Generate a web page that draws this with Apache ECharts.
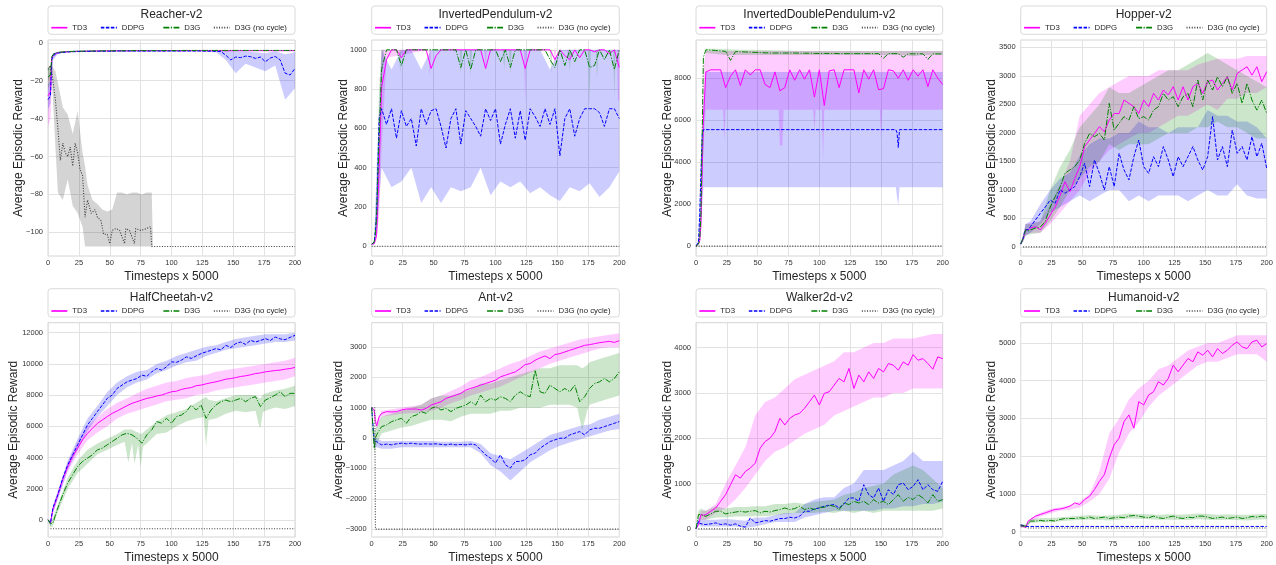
<!DOCTYPE html>
<html><head><meta charset="utf-8">
<script src="https://cdn.jsdelivr.net/npm/echarts/dist/echarts.min.js"></script>
<style>html,body{margin:0;padding:0;background:#fff}#c{width:1276px;height:565px}</style>
</head><body><div id="c"></div>
<script>
// ---------- shared x samples ----------
const XM = [0,2,3,4,6,8, 12,16,20,24,28,32,36,40,44,48, 52,56,60,64,68,72,76,80,84,88, 92,96,100,104,108,112,116,120,124,128, 132,136,140,144,148,152,156,160,164,168, 172,176,180,184,188,192,196,200];
const XB = [0,2,4,8, 16,24,32,40,48,56,64,72,80,88, 96,104,112,120,128,136,144,152,160,168, 176,184,192,200];
const X_TICKS = [0,25,50,75,100,125,150,175,200];
const TITLES = ['Reacher-v2','InvertedPendulum-v2','InvertedDoublePendulum-v2','Hopper-v2','HalfCheetah-v2','Ant-v2','Walker2d-v2','Humanoid-v2'];
const NAMES = ['TD3','DDPG','D3G','D3G (no cycle)'];

// ---------- Reacher ----------
const reacher_yticks = [-100,-80,-60,-40,-20,0];
const reacher_td3 = [-28,-26,-8,-6.5,-5.6,-5.2, -4.9,-4.7,-4.6,-4.5,-4.5,-4.4,-4.4,-4.3,-4.3,-4.3, -4.3,-4.2,-4.2,-4.2,-4.2,-4.1,-4.2,-4.2,-4.1,-4.1, -4.2,-4.1,-4.1,-4.1,-4.2,-4.1,-4.1,-4.1,-4.1,-4.1, -4.1,-4.1,-4.1,-4.2,-4.1,-4.1,-4.1,-4.1,-4.1,-4.1, -4.1,-4.1,-4.1,-4.1,-4.1,-4.1,-4.1,-4.1];
const reacher_ddpg = [-30,-28,-9,-7,-5.9,-5.4, -5.0,-4.8,-4.7,-4.6,-4.6,-4.5,-4.5,-4.4,-4.4,-4.4, -4.4,-4.3,-4.3,-4.3,-4.3,-4.3,-4.3,-4.3,-4.3,-4.3, -4.3,-4.3,-4.3,-4.3,-4.3,-4.3,-4.3,-4.3,-4.3,-4.4, -4.4,-4.5,-4.6,-6.5,-9,-7.5,-7.8,-7,-7.3,-8.2, -7.5,-10,-8,-7.2,-9,-16,-17,-13.5];
const reacher_d3g = [-18,-17,-7.5,-6.2,-5.4,-5.0, -4.8,-4.6,-4.5,-4.4,-4.4,-4.3,-4.3,-4.3,-4.2,-4.2, -4.2,-4.2,-4.2,-4.1,-4.1,-4.1,-4.1,-4.1,-4.1,-4.1, -4.1,-4.1,-4.1,-4.1,-4.0,-4.0,-4.0,-4.0,-4.0,-4.0, -4.0,-4.0,-4.0,-4.0,-4.0,-4.0,-4.0,-4.0,-4.0,-4.0, -4.0,-4.0,-4.0,-4.0,-4.0,-4.0,-4.0,-4.0];
const reacher_nc_x = [0,2,3,4,6,8,10,12,14,16, 18,20,22,24,26,28,30,32,35,38, 40,43,45,48,50,52,55,58,62,63, 66,70,71,75,80,83,84,200];
const reacher_nc = [-14,-12,-15,-20,-30,-45,-62,-53,-58,-60, -55,-65,-53,-58,-67,-70,-92,-83,-90,-88, -92,-94,-101,-101,-106,-99,-98,-99,-106,-98, -99,-106,-98,-99,-98,-97,-107.5,-107.5];
const reacher_td3_lo = [-44,-40,-8,-5.6, -4.9,-4.7,-4.6,-4.5,-4.5,-4.4,-4.4,-4.4,-4.4,-4.4, -4.4,-4.4,-4.4,-4.4,-4.4,-4.4,-4.4,-4.4,-4.4,-4.4, -4.4,-4.4,-4.4,-4.4];
const reacher_td3_hi = [-18,-15,-5.5,-4.8, -4.5,-4.3,-4.2,-4.1,-4.1,-4.0,-4.0,-4.0,-4.0,-4.0, -3.9,-3.9,-3.9,-3.9,-3.9,-3.9,-3.9,-3.9,-3.9,-3.9, -3.9,-3.9,-3.9,-3.9];
const reacher_ddpg_lo = [-35,-32,-9,-5.8, -5,-4.8,-4.7,-4.7,-4.6,-4.6,-4.6,-4.6,-4.6,-4.6, -4.6,-4.6,-4.6,-4.6,-4.7,-4.9,-9,-16,-11,-13, -15,-12,-30,-24];
const reacher_ddpg_hi = [-22,-20,-5.5,-4.8, -4.3,-4.1,-4.0,-4.0,-4.0,-4.0,-4.0,-4.0,-4.0,-4.0, -4.0,-4.0,-4.0,-4.0,-4.0,-4.0,-4.2,-4.5,-4.5,-5, -5.5,-4.5,-6,-5];
const reacher_d3g_lo = [-24,-22,-7,-5.4, -4.7,-4.5,-4.4,-4.3,-4.3,-4.2,-4.2,-4.2,-4.2,-4.2, -4.2,-4.2,-4.2,-4.2,-4.2,-4.2,-4.2,-4.2,-4.2,-4.2, -4.2,-4.2,-4.2,-4.2];
const reacher_d3g_hi = [-13,-12,-5.5,-4.7, -4.4,-4.2,-4.1,-4.0,-4.0,-3.9,-3.9,-3.9,-3.9,-3.9, -3.8,-3.8,-3.8,-3.8,-3.8,-3.8,-3.8,-3.8,-3.8,-3.8, -3.8,-3.8,-3.8,-3.8];
const reacher_nc_bx = [0,2,3,4,6,8,12,16,20,24,28,30,32,36,40,44,48,52,56,60,64,68,72,76,80,84,85,200];
const reacher_nc_lo = [-20,-19,-18,-30,-55,-79,-83,-72,-86,-90,-97,-107.5,-107.5,-107.5,-107.5,-107.5,-107.5,-107.5,-107.5,-107.5,-107.5,-107.5,-107.5,-107.5,-107.5,-107.5,-107.5,-107.5];
const reacher_nc_hi = [-13,-12,-12,-13,-15,-21,-34,-38,-48,-36,-58,-65,-75,-83,-85,-88,-89,-88,-79,-79,-80,-79,-79,-80,-79,-79,-107.5,-107.5];

// ---------- InvertedPendulum ----------
const invp_yticks = [0,200,400,600,800,1000];
const invp_td3 = [10,12,30,60,400,810, 950,1000,1000,960,1000,1000,1000,1000,1000,905, 970,1000,1000,1000,1000,1000,1000,1000,1000,1000, 905,1000,1000,1000,1000,1000,1000,1000,905,1000, 1000,1000,1000,1000,950,1000,970,950,1000,960, 1000,1000,990,1000,1000,980,1000,910];
const invp_ddpg = [10,20,80,170,650,700, 620,700,550,690,610,650,510,700,620,690, 700,610,500,650,700,520,690,650,610,560, 700,640,700,520,620,700,550,690,540,700, 660,610,700,620,700,460,650,700,560,650, 700,700,700,680,610,700,700,650];
const invp_d3g = [10,20,60,150,550,900, 1000,1000,1000,920,1000,1000,1000,1000,1000,1000, 1000,1000,1000,1000,1000,910,1000,900,1000,1000, 1000,1000,1000,940,1000,910,1000,1000,1000,1000, 1000,1000,1000,950,910,1000,920,1000,940,1000, 1000,910,920,1000,950,1000,900,1000];
const invp_nc_x = [0,200];
const invp_nc = [0,0];
const invp_td3_bx = [0,2,4,6,8,10,12, 46,47,48, 91,92,93, 123,124,125, 147,148,149, 158,159,160, 198,199,200];
const invp_td3_lo = [10,10,40,150,500,730,960, 1000,860,1000, 1000,900,1000, 1000,720,1000, 1000,920,1000, 1000,930,1000, 1000,740,740];
const invp_td3_hi = [10,20,100,600,1000,1000,1000, 1000,1000,1000, 1000,1000,1000, 1000,1000,1000, 1000,1000,1000, 1000,1000,1000, 1000,1000,1000];
const invp_ddpg_lo = [10,15,60,400, 300,330,400,220,300,220,300,280,300,400, 260,330,300,330,270,300,260,230,300,280, 320,250,300,380];
const invp_ddpg_hi = [10,30,400,1000, 900,1000,1000,900,1000,1000,1000,1000,1000,1000, 1000,1000,1000,1000,1000,1000,900,1000,1000,1000, 1000,1000,1000,1000];
const invp_d3g_bx = [0,2,4,6,8,10, 22,23,24, 71,72,73, 79,80,81, 106,107,108, 111,112,113, 144,145,146, 159,160,161, 175,176,177, 181,182,183, 195,196,197, 200];
const invp_d3g_lo = [10,20,150,500,850,1000, 1000,880,1000, 1000,880,1000, 1000,860,1000, 1000,900,1000, 1000,880,1000, 1000,880,1000, 1000,880,1000, 1000,720,1000, 1000,850,1000, 1000,760,1000, 1000];
const invp_d3g_hi = [10,30,300,800,1000,1000, 1000,1000,1000, 1000,1000,1000, 1000,1000,1000, 1000,1000,1000, 1000,1000,1000, 1000,1000,1000, 1000,1000,1000, 1000,1000,1000, 1000,1000,1000, 1000,1000,1000, 1000];

// ---------- InvertedDoublePendulum ----------
const idp_yticks = [0,2000,4000,6000,8000];
const idp_td3 = [0,100,250,1000,6000,8300, 8400,8400,8400,7550,8100,8400,7650,8400,8150,8400, 8400,7700,7550,8300,7400,7550,8400,7900,8400,7950, 8400,7100,8400,6700,8350,8400,7550,8400,8400,8400, 7300,8400,7950,8400,7450,7500,8400,8350,8000,8400, 7900,8400,8100,8400,7600,8400,8000,7700];
const idp_ddpg_x = [0,2,3,4,5,6,162,163,164,165,200];
const idp_ddpg = [0,200,1500,3500,5300,5550,5550,5400,4700,5550,5550];
const idp_d3g = [0,100,300,1500,9000,9350, 9340,9320,9300,9280,8850,9270,9260,9250,9240,9230, 9220,9210,9200,9200,9200,9200,9200,9200,9190,9190, 9190,9180,9180,9180,9180,9180,9170,9170,9170,9170, 9170,9170,9170,9170,9170,8950,9170,9170,9170,9000, 9160,9160,9160,9160,8900,9160,9160,9150];
const idp_nc_x = [0,200];
const idp_nc = [0,0];
const idp_td3_bx = [0,2,4,6,8, 22,23,24, 67,68,70,71, 95,96,97, 102,103,104, 149,150,151, 200];
const idp_td3_lo = [0,50,500,5000,6500, 6500,5000,6500, 6500,4800,4800,6500, 6500,5500,6500, 6500,4100,6500, 6500,5100,6500, 6500];
const idp_td3_hi = [0,150,2000,8500,9300, 9300,9300,9300, 9300,9300,9300,9300, 9300,9300,9300, 9300,9300,9300, 9300,9300,9300, 9300];
const idp_ddpg_bx = [0,2,4,6,8,162,163,164,165,200];
const idp_ddpg_lo = [0,150,1000,2800,2800,2800,2300,1950,2800,2800];
const idp_ddpg_hi = [0,300,4000,6500,8300,8300,8300,8300,8300,8300];
const idp_d3g_lo = [0,50,800,9200, 9150,9100,9100,9100,9100,9100,9100,9100,9100,9100, 9100,9100,9100,9100,9100,9100,9100,9100,9100,9100, 9050,9100,9100,9100];
const idp_d3g_hi = [0,150,2000,9400, 9400,9380,9370,9360,9350,9340,9330,9320,9310,9300, 9300,9300,9300,9300,9300,9300,9300,9300,9300,9300, 9300,9300,9300,9300];

// ---------- Hopper ----------
const hop_yticks = [0,500,1000,1500,2000,2500,3000,3500];
const hop_td3 = [50,150,220,300,300,330, 356,300,415,560,700,900,1145,970,1200,1408, 1760,1875,1990,2110,2020,2225,2340,2340,2577,2518, 2460,2340,2577,2460,2694,2577,2752,2665,2810,2577, 2810,2577,2810,2869,2694,2898,2927,2752,2869,2986, 2752,3044,3103,3161,3015,3161,2900,3073];
const hop_ddpg = [50,150,250,300,300,356, 473,590,700,820,765,1000,940,1000,1058,1233, 1467,1058,1525,1290,1000,1408,1058,1642,1350,1175, 1583,1875,1408,1290,1583,1408,1760,1525,1233,1583, 1408,1583,1760,1525,1350,1583,2285,1525,1760,1408, 2050,1642,1760,1525,1934,1583,1817,1380];
const hop_d3g = [50,150,220,300,280,300, 330,350,450,700,880,1050,1290,1350,1408,1525, 1817,1990,1934,1990,1875,2518,2050,2170,2285,2225, 2460,2250,2285,2225,2400,2460,2694,2577,2635,2460, 2635,2694,2460,2927,2577,2927,2752,2986,2810,2986, 2694,2869,2518,2869,2577,2400,2577,2343];
const hop_nc_x = [2,200];
const hop_nc = [0,0];
const hop_td3_lo = [30,100,200,250, 250,400,600,800,1000,1300,1500,1700,1800,1900, 2000,2000,2100,2200,2300,2300,2400,2500,2400,2600, 2600,2700,2700,2800];
const hop_td3_hi = [70,200,400,420, 450,750,1100,1500,2300,2500,2700,2800,2900,3000, 3000,3000,3100,3100,3100,3100,3200,3250,3300,3300, 3300,3350,3350,3350];
const hop_ddpg_lo = [30,100,200,250, 400,600,700,800,900,800,900,1000,1000,800, 900,800,900,900,900,800,900,1000,900,900, 1100,900,850,850];
const hop_ddpg_hi = [70,200,400,450, 750,1000,1200,1300,1600,1800,1900,1900,2000,2000, 2200,2100,2100,2000,2100,2100,2100,2400,2300,2300, 2200,2200,2100,1900];
const hop_d3g_lo = [30,100,200,220, 250,450,700,1000,1200,1400,1500,1800,1700,1800, 1800,1800,1900,2000,2000,2000,2100,2100,2200,2100, 2100,2000,1900,1900];
const hop_d3g_hi = [70,200,400,400, 450,1000,1400,1700,2100,2300,2500,2800,2700,2700, 2800,2900,3000,3100,3100,3200,3300,3400,3300,3200, 3100,3000,2900,2800];

// ---------- HalfCheetah ----------
const hc_yticks = [0,2000,4000,6000,8000,10000,12000];
const hc_td3 = [0,-200,-300,700,1100,1600, 2600,3400,4064,4600,5130,5550,5870,6190,6400,6620, 6830,6980,7150,7320,7470,7575,7680,7790,7850,7940, 8000,8110,8210,8250,8360,8430,8480,8600,8640,8720, 8790,8850,8930,9020,9060,9120,9190,9235,9300,9380, 9420,9490,9530,9575,9600,9660,9700,9770];
const hc_ddpg = [0,-190,-300,766,1200,1617, 2680,3530,4170,4810,5450,6086,6510,6940,7360,7790, 8000,8430,8640,8850,8960,9060,9280,9200,9490,9700, 9600,9810,10130,10100,10240,10450,10350,10510,10660,10770, 10870,10980,10900,11190,11050,11300,11400,11250,11510,11400, 11500,11620,11500,11720,11600,11550,11700,11830];
const hc_d3g = [0,-250,-350,-200,300,766, 1617,2360,2894,3426,3745,3958,4170,4490,4600,4810, 5020,5235,5450,5550,5450,5235,4915,5450,5770,6300, 6200,6510,6190,6620,6720,6940,7360,7040,7360,6510, 7040,7360,7575,7680,7575,7680,7790,7575,7790,7900, 7260,7680,7830,8000,8210,7900,8110,8110];
const hc_nc_x = [2,200];
const hc_nc = [-575,-575];
const hc_td3_lo = [0,-400,400,1400, 3100,4200,5100,5600,6000,6500,6800,7000,7200,7400, 7600,7700,7800,8000,8100,8300,8400,8500,8600,8700, 8800,8900,9000,9200];
const hc_td3_hi = [0,-100,900,1800, 3700,5000,6000,6600,7100,7500,7800,8100,8400,8600, 8800,8900,9100,9200,9300,9500,9600,9700,9800,9900, 10000,10100,10200,10400];
const hc_ddpg_lo = [0,-400,400,1300, 3200,4500,5700,6600,7300,8000,8500,8800,9000,9400, 9600,9900,10100,10200,10500,10700,10900,11000,11100,11200, 11300,11400,11400,11500];
const hc_ddpg_hi = [0,-100,900,1900, 3800,5200,6500,7300,8200,8800,9200,9500,9600,10000, 10200,10500,10700,10900,11100,11200,11400,11600,11700,11800, 11900,11900,11900,12000];
const hc_d3g_bx = [0,2,4,8,16,24,32,40,48,56, 62,65,68,70,73,75,77,80,88,96, 104,112,120,126,128,130,136,144,152,160, 168,171,172,174,176,184,192,200];
const hc_d3g_lo = [0,-500,-400,500,2000,3000,3600,4200,4500,4800, 5000,3700,4900,3600,4800,3400,4700,4900,5500,5600, 6000,6300,6500,6600,4700,6400,6500,6800,7000,6900, 7000,6000,5900,6900,7000,7200,7100,7300];
const hc_d3g_hi = [0,-100,100,1000,2700,3800,4500,4900,5200,5500, 5800,5800,5800,5700,5600,5500,5600,5800,6300,6700, 6900,7100,7500,7800,7900,7700,7600,7800,8000,8000, 8000,7800,7800,8000,8100,8300,8400,8600];

// ---------- Ant ----------
const ant_yticks = [-3000,-2000,-1000,0,1000,2000,3000];
const ant_td3 = [1000,923,540,400,700,814, 870,860,870,923,956,956,956,923,978,1087, 1142,1196,1306,1360,1415,1470,1580,1634,1688,1743, 1798,1852,1907,2016,2071,2126,2180,2290,2420,2453, 2563,2640,2705,2617,2750,2781,2836,2891,2945,3000, 3055,3077,3110,3142,3164,3186,3150,3208];
const ant_ddpg = [1000,-115,-115,-115,-180,-224, -200,-224,-190,-170,-190,-170,-190,-200,-190,-200, -190,-210,-224,-200,-224,-210,-224,-200,-224,-388, -552,-661,-825,-552,-880,-990,-771,-771,-716,-552, -498,-334,-224,-115,-60,-6,-6,103,158,213, 103,268,322,322,377,431,486,540];
const ant_d3g = [1000,-334,0,103,250,377, 431,540,595,650,486,705,760,870,814,978, 1033,923,978,870,978,1033,1087,1196,1087,1415, 1196,1306,1250,1360,1306,1196,1415,1524,1415,1360, 2235,1524,1470,1743,1634,1524,1634,1524,1743,1196, 1360,1634,1798,1852,1962,1852,1962,2180];
const ant_nc_x = [0,2.5,3,200];
const ant_nc = [1000,1000,-3000,-3000];
const ant_td3_lo = [1000,850,300,700, 750,800,820,850,900,1000,1150,1250,1400,1500, 1600,1700,1850,2000,2150,2300,2450,2550,2650,2750, 2850,2950,3000,3000];
const ant_td3_hi = [1000,1000,550,900, 950,1000,1050,1100,1300,1400,1550,1700,1900,2000, 2150,2300,2450,2550,2700,2850,2950,3050,3150,3250, 3300,3350,3400,3450];
const ant_ddpg_lo = [1000,-300,-300,-350, -350,-300,-300,-300,-300,-300,-300,-300,-300,-500, -900,-1100,-1400,-1100,-800,-600,-400,-250,-150,-50, 50,150,250,300];
const ant_ddpg_hi = [1000,0,0,-100, -100,-100,-100,-100,-100,-120,-120,-120,-100,-200, -500,-600,-700,-500,-300,-100,100,200,300,400, 450,600,700,800];
const ant_d3g_bx = [0,2,4,8,16,24,32,40,48,56, 64,72,80,88,96,104,112,120,128,136, 144,152,160,166,170,174,176,184,192,200];
const ant_d3g_lo = [1000,-500,-200,150,250,350,400,500,600,600, 550,700,800,800,800,900,900,1000,1000,1000, 1100,1100,1100,1000,250,900,1100,1200,1300,1400];
const ant_d3g_hi = [1000,200,400,700,800,900,1000,1100,1300,1400, 1400,1500,1600,1800,1800,1900,2000,2100,2200,2300, 2300,2400,2400,2400,2300,2400,2500,2600,2700,2800];

// ---------- Walker2d ----------
const walk_yticks = [0,1000,2000,3000,4000];
const walk_td3 = [0,95,200,315,300,315, 388,461,608,755,974,1194,1120,1267,1340,1450, 1780,1927,2000,2146,2440,2293,2440,2513,2550,2660, 2806,2952,2733,2990,3026,3172,3319,3245,3540,3099, 3392,3245,3465,3319,3540,3465,3648,3612,3502,3685, 3612,3846,3722,3758,3648,3524,3795,3758];
const walk_ddpg = [0,168,120,110,100,95, 110,132,95,110,80,110,59,37,242,132, 154,183,168,198,227,227,256,240,278,388, 388,440,461,498,520,535,461,550,681,681, 608,974,755,681,901,608,864,755,974,1011, 864,937,1084,864,974,864,828,1048];
const walk_d3g = [0,315,300,315,290,278, 330,388,388,330,352,370,388,370,388,403, 352,388,370,403,425,461,425,447,498,425, 461,425,476,476,520,498,425,571,535,608, 571,608,535,645,571,608,535,645,755,608, 696,645,755,681,571,755,608,645];
const walk_nc_x = [2,200];
const walk_nc = [0,0];
const walk_td3_lo = [0,50,200,200, 350,450,650,900,1200,1500,1700,1800,1950,2100, 2200,2300,2500,2600,2700,2800,2900,2900,3000,3000, 3100,3100,3100,3100];
const walk_td3_hi = [0,150,400,400, 550,1000,1400,1800,2500,2800,2900,3100,3300,3400, 3500,3600,3700,3900,3900,4000,4100,4100,4200,4200, 4200,4250,4300,4300];
const walk_ddpg_lo = [0,100,50,50, 50,50,50,20,50,100,150,150,150,250, 300,350,400,400,400,400,400,450,450,500, 500,550,550,600];
const walk_ddpg_hi = [0,250,200,200, 200,220,200,180,250,250,300,350,350,550, 650,700,700,900,1000,1300,1300,1300,1400,1500, 1700,1500,1500,1500];
const walk_d3g_lo = [0,200,200,200, 250,250,270,270,280,280,300,330,350,350, 350,380,350,400,350,400,350,400,400,400, 400,400,400,450];
const walk_d3g_hi = [0,400,450,400, 500,450,480,480,500,500,550,550,580,550, 600,620,650,750,800,900,950,1000,1200,1300, 1400,1300,1100,900];

// ---------- Humanoid ----------
const hum_yticks = [0,1000,2000,3000,4000,5000];
const hum_td3 = [150,150,140,105,281,325, 413,457,500,545,590,600,633,677,765,720, 852,940,1116,1335,1511,1950,2302,2478,2917,3093, 2741,3444,3357,3620,3708,3972,3884,4060,4411,4235, 4411,4587,4500,4762,4675,4806,4630,4850,4719,4806, 4938,5026,4894,4850,5026,5070,4894,4982];
const hum_ddpg_x = [0,4,200];
const hum_ddpg = [180,140,140];
const hum_d3g = [150,150,150,150,220,281, 281,300,281,300,281,325,350,350,350,369, 350,387,350,369,387,350,369,387,369,413, 430,413,387,369,413,369,350,387,413,369, 350,387,369,413,413,387,350,369,387,350, 369,387,350,369,404,387,413,387];
const hum_nc_x = [0,3,6,200];
const hum_nc = [180,150,100,100];
const hum_td3_lo = [100,100,90,260, 400,480,560,580,640,800,1000,1400,2100,2600, 2900,3300,3600,3800,4000,4200,4400,4500,4500,4600, 4700,4700,4700,4500];
const hum_td3_hi = [200,200,130,350, 500,600,650,700,800,1000,1600,2600,3000,3500, 3800,4000,4300,4400,4600,4800,4900,5000,5000,5100, 5200,5200,5200,5200];
const hum_d3g_lo = [120,120,120,230, 250,250,280,300,310,320,310,300,320,350, 340,330,320,320,320,310,330,320,310,320, 310,300,320,330];
const hum_d3g_hi = [200,200,200,330, 360,360,380,400,420,440,420,430,450,480, 470,460,450,460,450,460,480,470,450,460, 450,450,460,470];

// ---------- assembly ----------
const LINES = [
  {td3:[XM,reacher_td3], ddpg:[XM,reacher_ddpg], d3g:[XM,reacher_d3g], nc:[reacher_nc_x,reacher_nc]},
  {td3:[XM,invp_td3], ddpg:[XM,invp_ddpg], d3g:[XM,invp_d3g], nc:[invp_nc_x,invp_nc]},
  {td3:[XM,idp_td3], ddpg:[idp_ddpg_x,idp_ddpg], d3g:[XM,idp_d3g], nc:[idp_nc_x,idp_nc]},
  {td3:[XM,hop_td3], ddpg:[XM,hop_ddpg], d3g:[XM,hop_d3g], nc:[hop_nc_x,hop_nc]},
  {td3:[XM,hc_td3], ddpg:[XM,hc_ddpg], d3g:[XM,hc_d3g], nc:[hc_nc_x,hc_nc]},
  {td3:[XM,ant_td3], ddpg:[XM,ant_ddpg], d3g:[XM,ant_d3g], nc:[ant_nc_x,ant_nc]},
  {td3:[XM,walk_td3], ddpg:[XM,walk_ddpg], d3g:[XM,walk_d3g], nc:[walk_nc_x,walk_nc]},
  {td3:[XM,hum_td3], ddpg:[hum_ddpg_x,hum_ddpg], d3g:[XM,hum_d3g], nc:[hum_nc_x,hum_nc]}
];
const BANDS = [
  [['nc',reacher_nc_bx,reacher_nc_lo,reacher_nc_hi],['td3',XB,reacher_td3_lo,reacher_td3_hi],['ddpg',XB,reacher_ddpg_lo,reacher_ddpg_hi],['d3g',XB,reacher_d3g_lo,reacher_d3g_hi]],
  [['td3',invp_td3_bx,invp_td3_lo,invp_td3_hi],['ddpg',XB,invp_ddpg_lo,invp_ddpg_hi],['d3g',invp_d3g_bx,invp_d3g_lo,invp_d3g_hi]],
  [['td3',idp_td3_bx,idp_td3_lo,idp_td3_hi],['ddpg',idp_ddpg_bx,idp_ddpg_lo,idp_ddpg_hi],['d3g',XB,idp_d3g_lo,idp_d3g_hi]],
  [['td3',XB,hop_td3_lo,hop_td3_hi],['ddpg',XB,hop_ddpg_lo,hop_ddpg_hi],['d3g',XB,hop_d3g_lo,hop_d3g_hi]],
  [['td3',XB,hc_td3_lo,hc_td3_hi],['ddpg',XB,hc_ddpg_lo,hc_ddpg_hi],['d3g',hc_d3g_bx,hc_d3g_lo,hc_d3g_hi]],
  [['td3',XB,ant_td3_lo,ant_td3_hi],['ddpg',XB,ant_ddpg_lo,ant_ddpg_hi],['d3g',ant_d3g_bx,ant_d3g_lo,ant_d3g_hi]],
  [['td3',XB,walk_td3_lo,walk_td3_hi],['ddpg',XB,walk_ddpg_lo,walk_ddpg_hi],['d3g',XB,walk_d3g_lo,walk_d3g_hi]],
  [['td3',XB,hum_td3_lo,hum_td3_hi],['d3g',XB,hum_d3g_lo,hum_d3g_hi]]
];
const YTICKS = [reacher_yticks,invp_yticks,idp_yticks,hop_yticks,hc_yticks,ant_yticks,walk_yticks,hum_yticks];
const YRANGE = [[-112.5,1.5],[-50,1050],[-470,9820],[-160,3630],[-1100,12640],[-3260,3800],[-180,4550],[-140,5535]];

// layout
const FF = "'Liberation Sans', Arial, sans-serif";
const GL = [48,371.7,696,1020.7], GW = [247,247.6,246.7,246];
const GT = [40,322.7], GH = [216,215.3];
const BOXY = [6,288.7], TITY = [15,297.7], LEGY = [27.7,311];
const LEGOFF = [2.5,52,114.5,165];
const YNAMEC = [30,29,29.3,29.7,34.7,33.7,28.4,29.7];
const KEYS = ['td3','ddpg','d3g','nc'];
const COL = {td3:'#ff00ff', ddpg:'#0000ff', d3g:'#008000', nc:'#3a3a3a'};
const BANDCOL = {td3:'rgba(255,0,255,0.2)', ddpg:'rgba(0,0,255,0.2)', d3g:'rgba(0,128,0,0.2)', nc:'rgba(0,0,0,0.17)'};
const DASH = {td3:'solid', ddpg:[3.5,1.5], d3g:[6,1.5,1.2,1.5], nc:[1,1.6]};

const grid=[], xAxis=[], yAxis=[], series=[], legend=[], graphic=[];
const pairs = (xs, ys) => xs.map((x,i)=>[x, ys[i]]);
const minus = v => (v < 0 ? '\u2212' + Math.abs(v) : String(v));

function bandSeries(i, key, xs, lo, hi) {
  return {type:'custom', xAxisIndex:i, yAxisIndex:i, silent:true, clip:true, z:1, animation:false,
    data:[[xs[0], lo[0]]], encode:{x:0, y:1},
    renderItem:function(params, api){
      const top = xs.map((x,j)=>api.coord([x, hi[j]]));
      const bot = xs.map((x,j)=>api.coord([x, lo[j]])).reverse();
      return {type:'polygon', shape:{points: top.concat(bot)}, style:{fill: BANDCOL[key], stroke:'none'}};
    }};
}

for (let i = 0; i < 8; i++) {
  const r = Math.floor(i/4), c = i % 4;
  grid.push({left:GL[c], top:GT[r], width:GW[c], height:GH[r], show:true, borderColor:'#d4d4d4', borderWidth:1, backgroundColor:'#fff', containLabel:false});
  xAxis.push({gridIndex:i, type:'value', min:0, max:200, interval:25,
    axisLine:{show:false}, axisTick:{show:false},
    axisLabel:{fontSize:7.5, color:'#333', margin:3, fontFamily:FF, customValues:X_TICKS},
    splitLine:{show:true, lineStyle:{color:'#e2e2e2', width:1}},
    name:'Timesteps x 5000', nameLocation:'middle', nameGap:15, nameMoveOverlap:false,
    nameTextStyle:{fontSize:12, color:'#262626', fontFamily:FF}});
  yAxis.push({gridIndex:i, type:'value', min:YRANGE[i][0], max:YRANGE[i][1],
    axisLine:{show:false}, axisTick:{show:false, customValues:YTICKS[i]},
    axisLabel:{fontSize:7.5, color:'#333', margin:5, fontFamily:FF, customValues:YTICKS[i], formatter:minus},
    splitLine:{show:true, lineStyle:{color:'#e2e2e2', width:1}},
    name:'Average Episodic Reward', nameLocation:'middle', nameGap:YNAMEC[i]-6.5, nameMoveOverlap:false,
    nameTextStyle:{fontSize:12, color:'#262626', fontFamily:FF}});
  BANDS[i].forEach(b => series.push(bandSeries(i, b[0], b[1], b[2], b[3])));
  KEYS.forEach((key, k) => {
    const [xs, ys] = LINES[i][key];
    series.push({type:'line', name:NAMES[k], xAxisIndex:i, yAxisIndex:i, data:pairs(xs, ys),
      symbol:'none', showSymbol:false, z:3+k, animation:false,
      itemStyle:{color:COL[key]},
      lineStyle:{color:COL[key], width:key==='nc'?1.1:1, type:DASH[key]}});
  });
  NAMES.forEach((nm, k) => {
    legend.push({data:[nm], left:GL[c]+LEGOFF[k], top:LEGY[r]-4, itemWidth:16, itemHeight:8, padding:0, itemGap:0,
      selectedMode:false, lineStyle:{width:1.7}, itemStyle:{opacity:0},
      textStyle:{fontSize:7.8, color:'#262626', fontFamily:FF}});
  });
  graphic.push({type:'rect', silent:true, shape:{x:GL[c], y:BOXY[r], width:GW[c], height:28.3, r:3},
    style:{fill:'none', stroke:'#dadada', lineWidth:1}});
  graphic.push({type:'text', silent:true, x:GL[c]+GW[c]/2, y:TITY[r],
    style:{text:TITLES[i], align:'center', verticalAlign:'middle', textAlign:'center', textVerticalAlign:'middle',
      fontSize:12, fontFamily:FF, fill:'#262626'}});
}

const chart = echarts.init(document.getElementById('c'), null, {renderer:'canvas'});
chart.setOption({backgroundColor:'#fff', animation:false, textStyle:{fontFamily:FF},
  grid, xAxis, yAxis, series, legend, graphic});
</script>
</body></html>
